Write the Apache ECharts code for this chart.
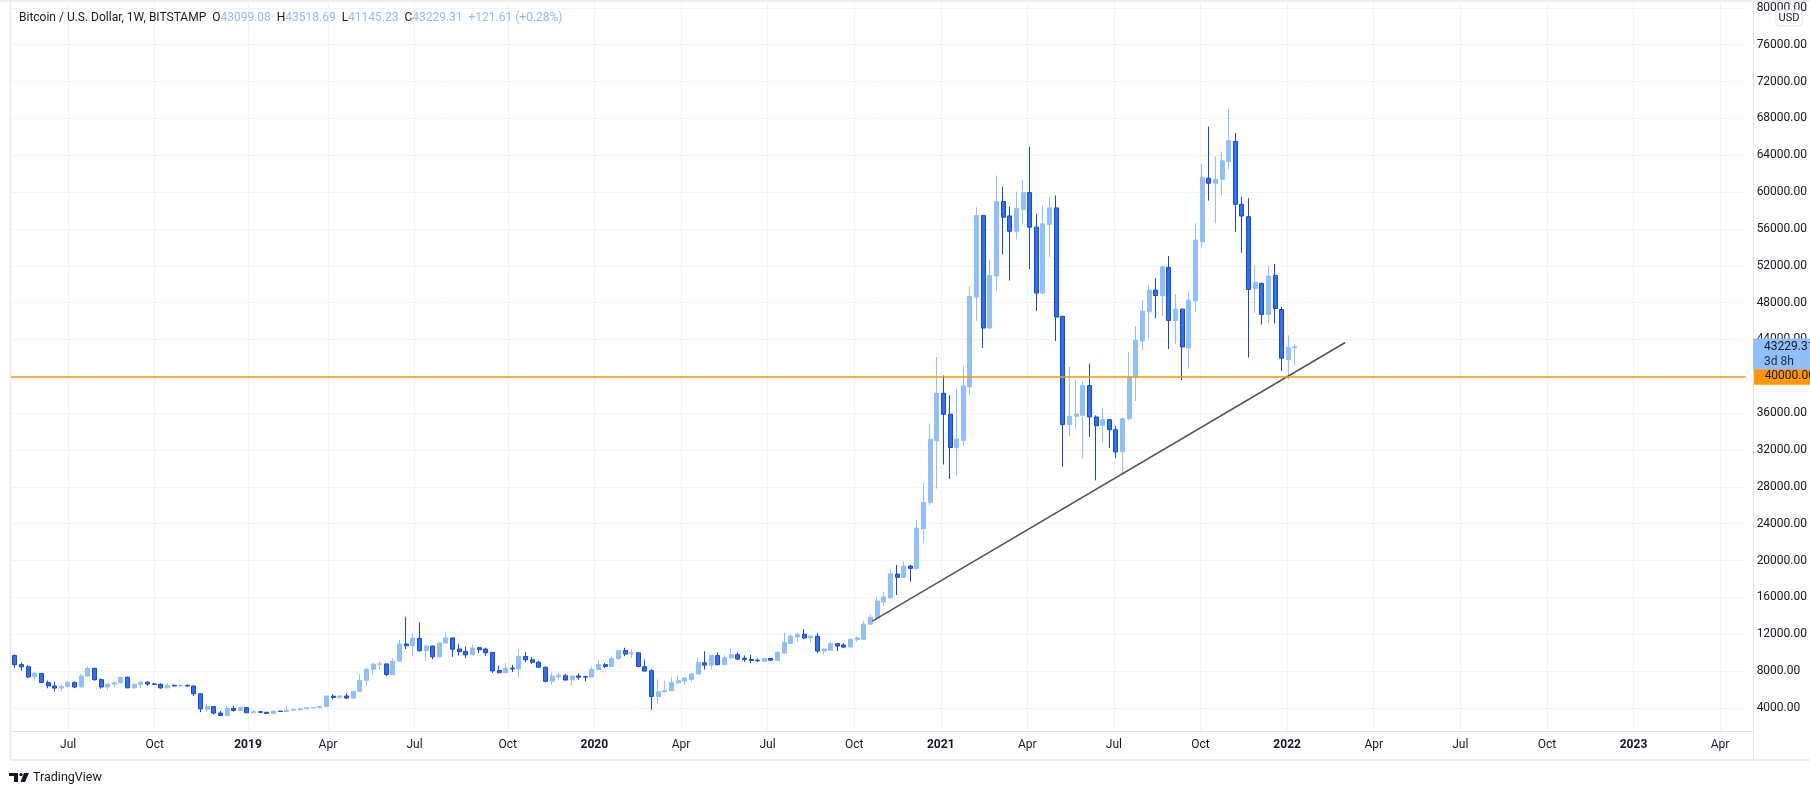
<!DOCTYPE html>
<html>
<head>
<meta charset="utf-8">
<script src="https://cdn.jsdelivr.net/npm/echarts@6/dist/echarts.min.js"></script>
<style>
html,body{margin:0;padding:0;background:#ffffff;}
#c{width:1810px;height:788px;}
</style>
</head>
<body>
<div id="c"></div>
<script>
// ---------------- DATA ----------------
const instrument = 'Bitcoin / U.S. Dollar, 1W, BITSTAMP';
const legendO = '43099.08', legendH = '43518.69', legendL = '41145.23', legendC = '43229.31';
const legendChg = '+121.61 (+0.28%)';
const currency = 'USD';

const anchorWeek = '2019-01-07';   // week index 0
const firstWeek = '2018-05-07';    // first weekly candle (consecutive weeks follow)
const viewWeeks = [-35.73, 225.94]; // visible range of the time scale, in weeks from anchorWeek

const open = [
 9700, 8700, 8470, 7360, 7750, 6750, 6390, 6160, 6340, 6770,
 6270, 7470, 8300, 7070, 6270, 6590, 6720, 7320, 6180, 6560,
 6800, 6600, 6560, 6180, 6450, 6390, 6450, 6380, 5540, 3850,
 4150, 3450, 3190, 3960, 3730, 4040, 3480, 3590, 3530, 3410,
 3660, 3610, 3760, 3830, 3910, 4030, 4050, 4140, 5280, 5140,
 5300, 5070, 5800, 7000, 8200, 8750, 8780, 7620, 9080, 10940,
 10760, 11560, 10210, 10720, 9550, 11050, 11600, 10390, 10140, 9770,
 10540, 10390, 10030, 8060, 7820, 8320, 8240, 9590, 9230, 8970,
 8420, 6890, 7380, 7500, 7040, 7470, 7390, 7350, 8150, 8700,
 8500, 9370, 10240, 9880, 9990, 8470, 8050, 5250, 5760, 5880,
 6740, 6930, 7100, 7690, 8900, 8650, 9680, 8700, 9450, 9780,
 9400, 9260, 9180, 9080, 9370, 9150, 9950, 11000, 11710, 12000,
 11630, 11780, 10175, 10250, 10980, 10830, 10610, 11420, 11450, 13100,
 13750, 15500, 15930, 18540, 18180, 19400, 19150, 23450, 26270, 33000,
 38160, 35880, 32270, 33060, 38840, 48600, 57450, 45240, 50880, 58970,
 57410, 55750, 58100, 59940, 56190, 49030, 56480, 58280, 46500, 34760,
 35650, 35770, 38990, 35580, 34700, 35290, 34200, 31800, 35400, 39860,
 43840, 47000, 49360, 48740, 51820, 46050, 47290, 43080, 48200, 54610,
 61500, 60960, 61390, 63300, 65490, 58670, 57330, 49500, 50080, 46710,
 50950, 47250, 41810, 43099.08
];
const high = [
 9790, 8960, 8640, 7900, 7780, 6960, 6850, 6520, 6890, 6880,
 7720, 8520, 8360, 7210, 6660, 6880, 7330, 7420, 6660, 6920,
 6890, 6740, 6680, 6740, 6560, 6560, 6550, 6450, 5560, 4420,
 4210, 3660, 4200, 4250, 4110, 4110, 3760, 3640, 3560, 3700,
 3700, 4200, 3950, 3990, 4060, 4090, 4190, 5370, 5470, 5390,
 5600, 5870, 7650, 8350, 8900, 9090, 8800, 9370, 11380, 13900,
 12150, 13300, 10840, 10760, 11100, 12300, 11620, 10980, 10690, 10870,
 10650, 10540, 10050, 8600, 8860, 8650, 10360, 10050, 9520, 9120,
 8500, 7840, 7800, 7690, 7490, 7730, 7510, 8500, 9190, 8860,
 9590, 10300, 10530, 10360, 10020, 9250, 8180, 7110, 6960, 7330,
 7510, 7330, 7770, 9470, 10140, 9720, 10030, 9770, 10470, 10030,
 9700, 9770, 9370, 9410, 9410, 10250, 12150, 11950, 12150, 12550,
 11890, 12150, 10540, 11240, 11000, 11010, 11560, 11780, 13420, 14150,
 16010, 16600, 19080, 19530, 19900, 19530, 24390, 28440, 34870, 42100,
 40100, 37940, 38660, 41080, 49750, 58350, 57520, 52680, 61790, 60590,
 58420, 60050, 61300, 64930, 57630, 58500, 59510, 59620, 46570, 41010,
 39570, 39390, 41370, 35760, 36590, 35300, 34630, 35500, 42610, 45440,
 48270, 49900, 50660, 52000, 53050, 48920, 47360, 49250, 56600, 63060,
 67090, 63860, 64370, 69040, 66400, 59510, 59330, 52040, 50190, 51970,
 52190, 47540, 44460, 43518.69
];
const low = [
 8350, 8020, 7260, 7100, 6700, 6130, 5800, 5790, 6200, 6150,
 6230, 7360, 6960, 6090, 5940, 6270, 6700, 6150, 6150, 6160,
 6380, 6520, 6080, 6160, 6310, 6270, 6310, 5280, 3540, 3560,
 3320, 3120, 3180, 3610, 3640, 3460, 3440, 3430, 3370, 3370,
 3580, 3600, 3690, 3720, 3820, 3960, 3970, 4100, 4930, 4980,
 4990, 5000, 5730, 6450, 7620, 8200, 7450, 7550, 9050, 10400,
 9660, 10150, 9120, 9300, 9450, 10980, 9560, 9700, 9410, 9750,
 9950, 9630, 7800, 7790, 7800, 7910, 7330, 8970, 8750, 8340,
 6790, 6520, 7080, 6960, 6450, 7070, 6890, 7330, 8100, 8320,
 8470, 9200, 9620, 9420, 8430, 7990, 3800, 4480, 5680, 5800,
 6600, 6530, 6800, 7650, 8170, 8170, 8640, 8640, 9300, 9190,
 8970, 8860, 9000, 9050, 9080, 9120, 9920, 10950, 11160, 11490,
 11160, 9960, 9810, 10250, 10180, 10500, 10540, 11230, 11450, 13000,
 13530, 15080, 15930, 16260, 18150, 17700, 19050, 21930, 26000, 27820,
 30420, 28840, 29200, 32450, 38050, 46000, 43070, 45130, 49320, 53220,
 50400, 54850, 56480, 51630, 47080, 48890, 52930, 43830, 30170, 33530,
 34260, 31150, 33420, 28700, 32750, 32200, 31120, 29340, 35200, 37320,
 42860, 44060, 46310, 46530, 42970, 43480, 39600, 40800, 47000, 53960,
 59070, 56600, 59620, 62480, 55700, 53420, 42030, 46890, 45620, 45730,
 45730, 40580, 39640, 41145.23
];
const close = [
 8700, 8470, 7360, 7750, 6750, 6390, 6160, 6340, 6770, 6270,
 7470, 8300, 7070, 6270, 6590, 6720, 7320, 6180, 6560, 6800,
 6600, 6560, 6180, 6450, 6390, 6450, 6380, 5540, 3900, 4150,
 3450, 3190, 3960, 3730, 4040, 3480, 3590, 3530, 3410, 3660,
 3610, 3760, 3830, 3930, 4040, 4050, 4140, 5280, 5140, 5300,
 5070, 5800, 7000, 8200, 8750, 8780, 7620, 9080, 10940, 10760,
 11560, 10210, 10720, 9550, 11050, 11600, 10360, 10100, 9770, 10500,
 10320, 9990, 8020, 7820, 8310, 8240, 9590, 9230, 8970, 8420,
 6890, 7440, 7550, 7040, 7470, 7330, 7350, 8170, 8700, 8500,
 9370, 10240, 9850, 9990, 8500, 8000, 5250, 5760, 5880, 6740,
 6960, 7250, 7690, 8930, 8650, 9700, 8700, 9450, 9780, 9300,
 9260, 9150, 9130, 9370, 9190, 10030, 11120, 11780, 12000, 11600,
 11780, 10175, 10400, 10980, 10720, 10610, 11450, 11600, 13100, 13830,
 15610, 16050, 18570, 18180, 19400, 19150, 23520, 26310, 33170, 38160,
 35880, 32270, 33170, 38950, 48670, 57450, 45240, 50950, 58970, 57270,
 55750, 58210, 59940, 56190, 49030, 56550, 58280, 46430, 34760, 35660,
 35900, 38990, 35590, 34630, 35290, 34200, 31800, 35400, 39930, 43920,
 47070, 49360, 48770, 51890, 46050, 47290, 43190, 48270, 54790, 61610,
 60960, 61390, 63390, 65560, 58670, 57400, 49430, 50190, 46710, 50880,
 47360, 41960, 43150, 43229.31
];

// time-scale tick labels (first weekly bar of each quarter)
const tickDates = ['2018-07-02','2018-10-01','2019-01-07','2019-04-01','2019-07-01','2019-10-07',
  '2020-01-06','2020-04-06','2020-07-06','2020-10-05','2021-01-04','2021-04-05','2021-07-05',
  '2021-10-04','2022-01-03','2022-04-04','2022-07-04','2022-10-03','2023-01-02','2023-04-03'];
const tickLabels = ['Jul','Oct','2019','Apr','Jul','Oct','2020','Apr','Jul','Oct','2021','Apr','Jul',
  'Oct','2022','Apr','Jul','Oct','2023','Apr'];

// price scale
const priceMin = 0, priceMax = 80000, priceStep = 4000;

// drawings
const levelPrice = 40000;                          // horizontal line
const trendDates = ['2020-10-28', '2022-03-11'];   // trend line anchors
const trendPrices = [13430, 43670];
const lastPrice = 43229.31;
const countdown = '3d 8h';

// ---------------- CHART ----------------
const DAY = 864e5;
const weekIdx = d => (Date.parse(d + 'T00:00:00Z') - Date.parse(anchorWeek + 'T00:00:00Z')) / (7 * DAY);
const x0 = weekIdx(firstWeek);
const candles = open.map((o, k) => [x0 + k, o, close[k], low[k], high[k]]);
const tickIdx = tickDates.map(weekIdx);
const trendData = trendDates.map((d, k) => [weekIdx(d), trendPrices[k]]);

const FONT = 'Roboto, "Noto Sans", "DejaVu Sans", sans-serif';
const TXT = '#131722';
const UP = '#90bff9';
const DOWN = '#2f6ff0';
const DOWN_B = '#1848cc';
const GRID_C = '#f0f3fa';
const FRAME = '#e0e3eb';

const chart = echarts.init(document.getElementById('c'), null, {renderer: 'canvas', width: 1810, height: 788});

const option = {
  animation: false,
  backgroundColor: '#ffffff',
  textStyle: {fontFamily: FONT},
  title: {
    left: 14, top: 7,
    text: `{n|${instrument}}  {k|O}{v|${legendO}}  {k|H}{v|${legendH}}  {k|L}{v|${legendL}}  {k|C}{v|${legendC}}  {v|${legendChg}}`,
    textStyle: {
      fontFamily: FONT, fontSize: 12, fontWeight: 'normal', color: TXT,
      rich: {
        n: {color: TXT, fontSize: 12, fontFamily: FONT},
        k: {color: TXT, fontSize: 12, fontFamily: FONT},
        v: {color: '#8dbcf6', fontSize: 12, fontFamily: FONT}
      }
    }
  },
  grid: [
    {left: 10, width: 1743, top: 7.8, height: 737},
    {left: 10, width: 1743, top: 3, height: 728}
  ],
  xAxis: [
    {gridIndex: 0, type: 'value', min: viewWeeks[0], max: viewWeeks[1], show: false},
    {
      gridIndex: 1, type: 'value', min: viewWeeks[0], max: viewWeeks[1],
      axisLine: {show: true, lineStyle: {color: FRAME, width: 1}},
      axisTick: {show: false, customValues: tickIdx},
      axisLabel: {
        customValues: tickIdx, margin: 8, color: TXT, fontSize: 12, fontFamily: FONT,
        formatter: v => {
          let k = 0, best = 1e9;
          tickIdx.forEach((t, j) => { const d = Math.abs(t - v); if (d < best) { best = d; k = j; } });
          const s = tickLabels[k];
          return /^\d{4}$/.test(s) ? '{y|' + s + '}' : s;
        },
        rich: {y: {fontWeight: 'bold', fontSize: 12, color: TXT, fontFamily: FONT}}
      },
      splitLine: {show: true, lineStyle: {color: GRID_C, width: 1}}
    }
  ],
  yAxis: [
    {
      gridIndex: 0, type: 'value', position: 'right', min: priceMin, max: priceMax, interval: priceStep,
      axisLine: {show: false}, axisTick: {show: false},
      axisLabel: {formatter: v => v.toFixed(2), color: TXT, fontSize: 12, margin: 11, fontFamily: FONT, showMinLabel: false},
      splitLine: {show: true, showMinLine: false, lineStyle: {color: GRID_C, width: 1}}
    },
    {gridIndex: 1, type: 'value', show: false, min: 0, max: 1, splitLine: {show: false}}
  ],
  series: [
    {
      type: 'candlestick', xAxisIndex: 0, yAxisIndex: 0,
      data: candles, barWidth: 4.5,
      itemStyle: {color: UP, color0: DOWN, borderColor: UP, borderColor0: DOWN_B, borderWidth: 1},
      markLine: {
        silent: true, symbol: ['none', 'none'], animation: false,
        data: [{yAxis: levelPrice}],
        lineStyle: {color: '#ff9800', width: 1.5, type: 'solid'},
        label: {
          show: true, position: 'end', distance: 8,
          formatter: () => levelPrice.toFixed(2),
          backgroundColor: '#ff9800', color: TXT, fontSize: 12, fontFamily: FONT,
          padding: [2, 8, 2, 11], lineHeight: 13
        },
        emphasis: {disabled: true}
      },
      z: 2
    },
    {
      type: 'line', xAxisIndex: 0, yAxisIndex: 0, data: trendData,
      showSymbol: false, symbol: 'none',
      lineStyle: {color: '#50535e', width: 1.5},
      z: 3, silent: true
    }
  ]
};
chart.setOption(option);

const yLast = chart.convertToPixel({yAxisIndex: 0}, lastPrice);
chart.setOption({
  graphic: [
    // frame
    {type: 'line', z: 50, silent: true, shape: {x1: 0, y1: 1, x2: 1810, y2: 1}, style: {stroke: '#eceef2', lineWidth: 2}},
    {type: 'line', z: 50, silent: true, shape: {x1: 10.5, y1: 0, x2: 10.5, y2: 760}, style: {stroke: '#e6e8ee', lineWidth: 1.5}},
    {type: 'line', z: 50, silent: true, shape: {x1: 1753.5, y1: 0, x2: 1753.5, y2: 760}, style: {stroke: FRAME, lineWidth: 1}},
    {type: 'line', z: 50, silent: true, shape: {x1: 10, y1: 760, x2: 1810, y2: 760}, style: {stroke: '#eceef2', lineWidth: 2}},
    // last price box
    {type: 'rect', z: 60, silent: true, shape: {x: 1753, y: yLast - 8, width: 57, height: 31}, style: {fill: UP}},
    {type: 'text', z: 61, silent: true, style: {x: 1764, y: yLast, text: lastPrice.toFixed(2), fill: TXT, font: '12px ' + FONT, verticalAlign: 'middle'}},
    {type: 'text', z: 61, silent: true, style: {x: 1764, y: yLast + 15, text: countdown, fill: '#2a2e39', font: '12px ' + FONT, verticalAlign: 'middle'}},
    // currency box
    {type: 'rect', z: 60, silent: true, shape: {x: 1776, y: 10, width: 26, height: 16, r: 3}, style: {fill: '#ffffff', stroke: FRAME, lineWidth: 1}},
    {type: 'text', z: 61, silent: true, style: {x: 1789, y: 18.5, text: currency, fill: TXT, font: '11px ' + FONT, align: 'center', verticalAlign: 'middle'}},
    // TradingView logo
    {type: 'rect', z: 60, silent: true, shape: {x: 9, y: 773, width: 9, height: 3}, style: {fill: TXT}},
    {type: 'rect', z: 60, silent: true, shape: {x: 14, y: 773, width: 4, height: 9}, style: {fill: TXT}},
    {type: 'circle', z: 60, silent: true, shape: {cx: 21, cy: 774.6, r: 1.7}, style: {fill: TXT}},
    {type: 'polygon', z: 60, silent: true, shape: {points: [[24, 773], [29, 773], [25, 782], [20.5, 782]]}, style: {fill: TXT}},
    {type: 'text', z: 60, silent: true, style: {x: 33, y: 778, text: 'TradingView', fill: TXT, font: '12.5px ' + FONT, verticalAlign: 'middle'}}
  ]
});
</script>
</body>
</html>
